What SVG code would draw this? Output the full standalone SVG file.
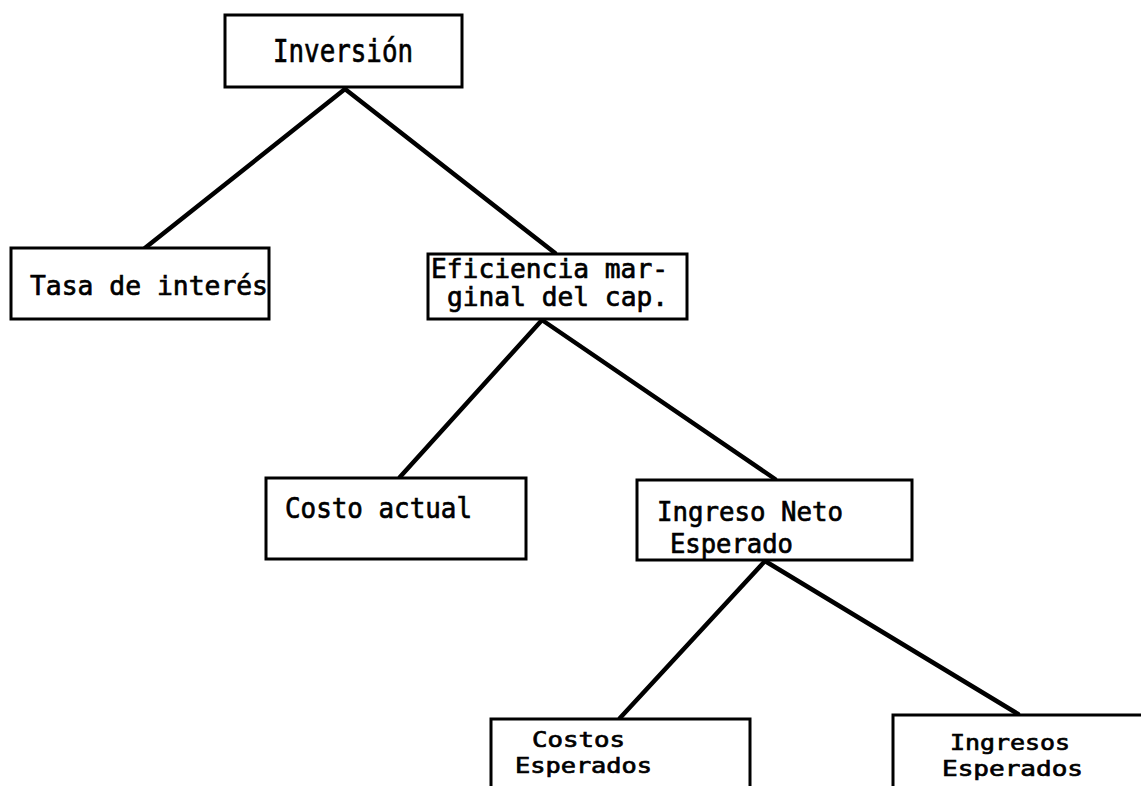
<svg xmlns="http://www.w3.org/2000/svg" width="1141" height="786" viewBox="0 0 1141 786">
<style>
.box{fill:#fff;stroke:#000;stroke-width:3}
.lbl{font-family:"DejaVu Sans Mono","Liberation Mono",monospace;font-size:27px;fill:#000;stroke:#000;stroke-width:0.7}
.sm{font-size:22px}
.con{stroke:#000;stroke-width:4.5;fill:none;stroke-linecap:round}
</style>
<rect width="1141" height="786" fill="#fff"/>
<g id="connectors">
<line class="con" x1="345" y1="89" x2="145" y2="248"/>
<line class="con" x1="345" y1="89" x2="555" y2="253"/>
<line class="con" x1="542" y1="320" x2="400" y2="477"/>
<line class="con" x1="542" y1="320" x2="775" y2="479"/>
<line class="con" x1="765" y1="561" x2="620" y2="718"/>
<line class="con" x1="765" y1="561" x2="1018" y2="714"/>
</g>
<g id="inversion">
<rect class="box" x="225" y="15" width="237" height="72"/>
<text class="lbl" x="273" y="62" textLength="140" lengthAdjust="spacingAndGlyphs" style="font-size:32px">Inversión</text>
</g>
<g id="tasa">
<rect class="box" x="11" y="248" width="258" height="71"/>
<text class="lbl" x="30" y="295" textLength="238" lengthAdjust="spacingAndGlyphs">Tasa de interés</text>
</g>
<g id="eficiencia">
<rect class="box" x="428" y="254" width="259" height="65"/>
<text class="lbl" x="431" y="278" textLength="237" lengthAdjust="spacingAndGlyphs">Eficiencia mar-</text>
<text class="lbl" x="447" y="306" textLength="221" lengthAdjust="spacingAndGlyphs">ginal del cap.</text>
</g>
<g id="costo-actual">
<rect class="box" x="266" y="478" width="260" height="81"/>
<text class="lbl" x="285" y="518" textLength="187" lengthAdjust="spacingAndGlyphs" style="font-size:29px">Costo actual</text>
</g>
<g id="ingreso-neto">
<rect class="box" x="637" y="480" width="275" height="80"/>
<text class="lbl" x="657" y="521" textLength="186" lengthAdjust="spacingAndGlyphs">Ingreso Neto</text>
<text class="lbl" x="670" y="553" textLength="123" lengthAdjust="spacingAndGlyphs">Esperado</text>
</g>
<g id="costos-esperados">
<rect class="box" x="491" y="719" width="259" height="80"/>
<text class="lbl sm" x="532" y="747" textLength="93" lengthAdjust="spacingAndGlyphs">Costos</text>
<text class="lbl sm" x="515" y="773" textLength="137" lengthAdjust="spacingAndGlyphs">Esperados</text>
</g>
<g id="ingresos-esperados">
<rect class="box" x="893" y="715" width="260" height="80"/>
<text class="lbl sm" x="950" y="750" textLength="120" lengthAdjust="spacingAndGlyphs">Ingresos</text>
<text class="lbl sm" x="942" y="776" textLength="141" lengthAdjust="spacingAndGlyphs">Esperados</text>
</g>
</svg>
